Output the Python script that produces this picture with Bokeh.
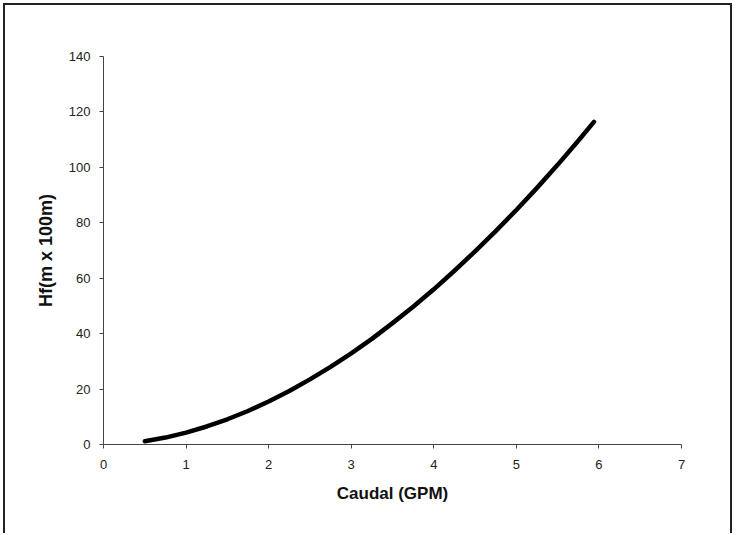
from bokeh.plotting import figure
from bokeh.models import Range1d, FixedTicker
from bokeh.embed import file_html
from bokeh.resources import INLINE

# Data
caudal_gpm = [0.5, 0.75, 1.0, 1.25, 1.5, 1.75, 2.0, 2.25, 2.5, 2.75, 3.0, 3.25,
              3.5, 3.75, 4.0, 4.25, 4.5, 4.75, 5.0, 5.25, 5.5, 5.75, 5.94]
hf = [1.2, 2.5, 4.3, 6.5, 9.1, 12.1, 15.5, 19.3, 23.5, 28.0, 32.9, 38.1,
      43.8, 49.7, 56.0, 62.7, 69.7, 77.0, 84.6, 92.6, 100.9, 109.6, 116.4]
x_ticks = [0, 1, 2, 3, 4, 5, 6, 7]
y_ticks = [0, 20, 40, 60, 80, 100, 120, 140]

p = figure(width=729, height=530, output_backend="svg", toolbar_location=None,
           x_range=Range1d(0, 7), y_range=Range1d(0, 140),
           min_border_left=98, min_border_right=53, min_border_top=51,
           min_border_bottom=91)
p.styles = {"border-top": "2px solid #222", "border-left": "2px solid #222",
            "border-right": "2px solid #222", "margin": "3px 0 0 3px"}
p.outline_line_color = None
p.grid.grid_line_color = None
p.background_fill_color = "white"
p.border_fill_color = "white"

p.line(caudal_gpm, hf, line_color="black", line_width=4.5, line_cap="round",
       line_join="round")

p.xaxis.ticker = FixedTicker(ticks=x_ticks)
p.yaxis.ticker = FixedTicker(ticks=y_ticks)
for ax in (p.xaxis[0], p.yaxis[0]):
    ax.axis_line_color = "#444"
    ax.axis_line_width = 1
    ax.major_tick_line_color = "#444"
    ax.major_tick_out = 4
    ax.major_tick_in = 0
    ax.minor_tick_line_color = None
    ax.major_label_text_font = "Liberation Sans"
    ax.major_label_text_font_size = "13px"
    ax.major_label_text_color = "#222"
    ax.axis_label_text_font = "Liberation Sans"
    ax.axis_label_text_font_style = "bold"
    ax.axis_label_text_color = "#111"

p.xaxis.axis_label = "Caudal (GPM)"
p.yaxis.axis_label = "Hf(m x 100m)"
p.xaxis.axis_label_text_font_size = "17px"
p.yaxis.axis_label_text_font_size = "18px"
p.xaxis.major_label_standoff = 11
p.xaxis.axis_label_standoff = 12
p.yaxis.major_label_standoff = 9
p.yaxis.axis_label_standoff = 10

open("out.html", "w").write(file_html(p, INLINE))
